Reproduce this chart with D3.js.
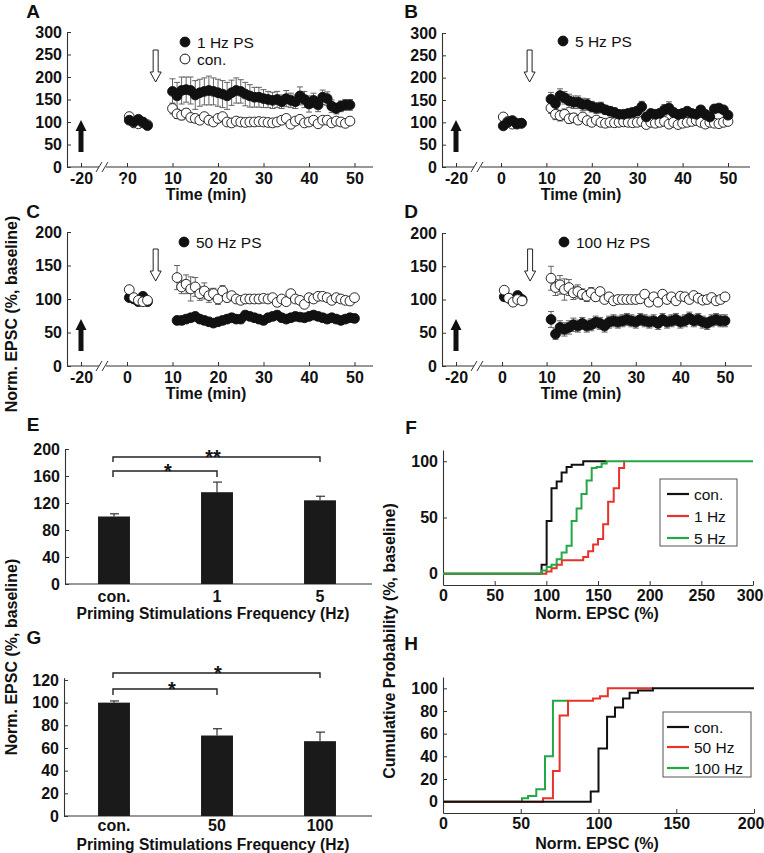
<!DOCTYPE html>
<html><head><meta charset="utf-8">
<script src="https://cdn.jsdelivr.net/npm/d3@7"></script>
<style>body{margin:0;background:#fff}svg text{font-family:"Liberation Sans",Arial,Helvetica,sans-serif}</style>
</head><body><svg id="c" width="764" height="853"></svg>
<script>
// ---------------- DATA ----------------
const timeTicks = [-20,0,10,20,30,40,50];
const timeLabelsA = ["-20","?0","10","20","30","40","50"];
const timeLabelsB = ["-20","0","10","20","30","40","50"];
const tBase = [0.5,1.5,2.5,3.5,4.5];
const tPostA = [10,11,12,13,14,15,16,17,18,19,20,21,22,23,24,25,26,27,28,29,30,31,32,33,34,35,36,37,38,39,40,41,42,43,44,45,46,47,48,49];
const tPost = [11,12,13,14,15,16,17,18,19,20,21,22,23,24,25,26,27,28,29,30,31,32,33,34,35,36,37,38,39,40,41,42,43,44,45,46,47,48,49,50];

// Panel A: 1 Hz PS vs con.
const aBaseFilled = [104,100,106,100,92];
const aBaseOpen = [112,98,96,98,94];
const aFilled = [168,158,170,172,170,160,165,168,170,168,165,162,158,165,170,168,162,158,155,155,152,150,148,150,145,152,148,145,158,150,140,148,138,155,152,135,130,135,138,138];
const aFilledErr = [28,30,30,28,30,32,30,30,32,30,30,30,30,28,28,26,26,25,22,22,20,18,18,18,15,18,16,15,20,18,18,16,15,16,15,14,12,12,12,12];
const aOpen = [130,118,115,120,110,108,104,112,104,100,108,112,100,98,102,100,99,100,100,101,100,99,98,100,104,108,95,102,106,98,100,104,96,104,104,98,102,100,97,102];
const aOpenErr = [12,10,10,10,8,8,6,8,6,5,6,6,5,5,5,5,5,4,4,4,4,4,4,4,5,5,5,5,5,5,5,5,5,5,5,5,5,5,5,5];

// Panel B: 5 Hz PS
const bBaseFilled = [92,100,104,96,98];
const bBaseOpen = [112,102,96,98,98];
const bFilled = [152,142,160,155,148,145,145,140,140,135,132,133,128,125,122,118,118,120,122,125,135,112,120,118,120,128,132,122,118,120,125,120,118,128,118,112,130,132,128,116];
const bFilledErr = [15,12,15,14,15,14,14,14,13,12,12,12,10,10,10,8,8,8,10,10,12,8,8,8,10,12,14,10,8,8,8,8,8,8,8,8,8,8,8,8];
const bOpen = [132,118,115,118,108,110,105,112,104,100,105,100,98,100,99,100,101,100,99,100,102,95,100,98,100,102,96,100,95,98,100,102,104,100,96,100,98,97,100,102];
const bOpenErr = [12,12,12,12,10,10,8,8,6,6,5,5,5,4,4,4,4,4,4,4,5,5,5,5,5,5,5,5,5,5,5,5,5,5,5,5,5,5,5,5];

// Panel C: 50 Hz PS
const cBaseFilled = [102,100,96,104,96];
const cBaseOpen = [114,102,98,96,98];
const cFilled = [68,68,70,72,74,70,68,66,64,66,68,70,72,70,70,76,74,72,70,68,72,74,76,72,70,72,74,73,72,74,76,74,72,70,72,70,68,70,72,71];
const cFilledErr = [6,6,6,6,6,6,6,6,6,6,6,6,6,6,6,6,6,6,6,6,6,6,6,6,6,6,6,6,6,6,6,6,6,6,6,6,6,6,6,6];
const cOpen = [132,118,122,115,118,108,112,105,108,100,112,102,105,100,98,100,100,100,100,101,100,102,95,100,96,108,100,98,92,102,100,104,104,102,98,102,100,98,97,102];
const cOpenErr = [18,10,14,18,14,10,12,10,8,8,8,6,6,5,5,5,5,5,5,5,5,5,6,5,5,6,5,5,5,5,5,5,5,5,5,5,5,5,5,5];

// Panel D: 100 Hz PS
const dBaseFilled = [104,102,98,106,100];
const dBaseOpen = [114,102,96,100,98];
const dFilled = [70,48,58,55,58,62,60,64,60,62,66,64,60,66,68,66,68,70,68,66,70,68,66,68,64,70,66,68,70,66,68,72,68,70,66,64,68,70,68,68];
const dFilledErr = [12,8,10,10,10,10,9,9,9,9,9,9,9,9,9,9,9,9,9,9,9,9,9,9,9,9,9,9,9,9,9,9,9,9,9,9,9,9,9,9];
const dOpen = [132,118,122,115,118,110,112,108,105,110,104,112,100,104,98,100,100,100,100,100,101,108,96,104,96,108,100,104,98,105,104,100,106,102,99,100,103,98,100,104];
const dOpenErr = [18,12,14,16,12,10,10,8,8,8,6,6,5,5,5,5,5,5,5,5,5,5,5,5,5,5,5,5,5,5,5,5,5,5,5,5,5,5,5,5];

// Panel E / G bar charts
const eCats = ["con.","1","5"];
const eVals = [100,136,124];
const eErr = [4,15,6];
const eTicks = [0,40,80,120,160,200];
const gCats = ["con.","50","100"];
const gVals = [100,71,66];
const gErr = [1.5,6,8];
const gTicks = [0,20,40,60,80,100,120];

// Panel F cumulative (steps)
const fConX = [0,95.4,100.3,105,110,114.8,119.6,124.5,135.7,158];
const fConY = [0,8,47,76,82,90,95,97,100,100];
const f1X = [0,100,105,110,115,135.7,140.5,145.3,150,155,159.8,165.2,170.4,175.3,176];
const f1Y = [0,2,5,8,12,15,20,26,31,44,64,76,94,100,100];
const f5X = [0,95.4,100.3,105,110,114.8,119.6,124.5,129.3,134,139,143.9,148.7,153.5,158.4,300];
const f5Y = [0,3,6,8,13,19,25,47,58,71,83,94,95,98,100,100];
const fTicksX = [0,50,100,150,200,250,300];
const fTicksY = [0,50,100];

// Panel H cumulative (steps)
const hConX = [0,95,100,105.5,110.6,115.8,120,125.4,135,200];
const hConY = [0,9,47,75,83,91,96,98,100,100];
const h50X = [0,64.3,70.7,75,80.4,96.5,101,106,135];
const h50Y = [0,3,27,76,89,91,93,100,100];
const h100X = [0,50.8,54.7,60,65.6,70.7,80];
const h100Y = [0,3,5,11,40,89,89];
const hTicksX = [0,50,100,150,200];
const hTicksY = [0,20,40,60,80,100];

// ---------------- DRAW ----------------
const FONT = '"Liberation Sans",Arial,Helvetica,sans-serif';
const FS = 16;
const svg = d3.select("#c");
svg.append("rect").attr("width",764).attr("height",853).attr("fill","#fff");

function styleAxis(g){
  g.select(".domain").attr("stroke","#333").attr("stroke-width",1.1);
  g.selectAll(".tick line").attr("stroke","#333").attr("stroke-width",1);
  g.selectAll(".tick text").attr("font-size",FS).attr("font-weight","bold").attr("fill","#111").attr("font-family",FONT);
}
function txt(x,y,s,opt={}){
  const t = svg.append("text").attr("x",x).attr("y",y).text(s)
    .attr("font-size",opt.size||FS).attr("font-weight",opt.weight||"bold")
    .attr("fill",opt.fill||"#111").attr("text-anchor",opt.anchor||"middle").attr("font-family",FONT);
  if(opt.rotate) t.attr("transform",`rotate(${opt.rotate},${x},${y})`);
  return t;
}

function tsPanel(o){
  const x = d3.scaleLinear().domain([-20,0,50]).range(o.xr);
  const y = d3.scaleLinear().domain([0,o.ymax]).range([o.y0,o.y1]);
  const g = svg.append("g");
  const ya = g.append("g").attr("transform",`translate(${o.ax},0)`)
    .call(d3.axisLeft(y).tickValues(o.yticks).tickFormat(d3.format("d")).tickSize(-4).tickPadding(5).tickSizeOuter(0));
  styleAxis(ya);
  const xa = g.append("g").attr("transform",`translate(0,${o.y0})`)
    .call(d3.axisBottom(x).tickValues(timeTicks).tickFormat((d,i)=>o.xlabels[i]).tickSize(-4).tickPadding(6).tickSizeOuter(0));
  styleAxis(xa);
  xa.select(".domain").remove();
  g.append("line").attr("x1",o.ax).attr("x2",o.xend).attr("y1",o.y0).attr("y2",o.y0).attr("stroke","#333").attr("stroke-width",1.1);
  g.append("rect").attr("x",o.brk-3).attr("y",o.y0-2).attr("width",7).attr("height",4).attr("fill","#fff");
  [o.brk-3,o.brk+3].forEach(bx=>g.append("line").attr("x1",bx-3).attr("x2",bx+3).attr("y1",o.y0+5).attr("y2",o.y0-5).attr("stroke","#333").attr("stroke-width",1));
  txt(o.titleX,o.y0+33,"Time (min)");
  const ux = x(-20), uy0 = o.y0-15, uy1 = o.y0-47;
  g.append("path").attr("d",`M${ux-2.5},${uy0}L${ux-2.5},${uy1+11}L${ux-5.5},${uy1+11}L${ux},${uy1}L${ux+5.5},${uy1+11}L${ux+2.5},${uy1+11}L${ux+2.5},${uy0}Z`).attr("fill","#111");
  const dx = x(6.3), dy0 = o.y0-117, dy1 = o.y0-85;
  g.append("path").attr("d",`M${dx-2.5},${dy0}L${dx-2.5},${dy1-10}L${dx-5.5},${dy1-10}L${dx},${dy1}L${dx+5.5},${dy1-10}L${dx+2.5},${dy1-10}L${dx+2.5},${dy0}Z`).attr("fill","#fff").attr("stroke","#222").attr("stroke-width",1);
  const series = [
    {t:tBase, v:o.baseOpen, e:o.baseOpen.map(()=>4), filled:false},
    {t:o.tp, v:o.open, e:o.openErr, filled:false},
    {t:tBase, v:o.baseFilled, e:o.baseFilled.map(()=>5), filled:true},
    {t:o.tp, v:o.filled, e:o.filledErr, filled:true}
  ];
  const order = o.openOnTop ? [2,3,0,1] : [0,1,2,3];
  series.forEach(s=>{
    const eg = g.append("g").attr("stroke","#555").attr("stroke-width",0.9);
    s.t.forEach((t,i)=>{
      const cx = x(t), hi = y(s.v[i]+s.e[i]), lo = y(s.v[i]-s.e[i]);
      eg.append("line").attr("x1",cx).attr("x2",cx).attr("y1",hi).attr("y2",lo);
      eg.append("line").attr("x1",cx-3).attr("x2",cx+3).attr("y1",hi).attr("y2",hi);
      eg.append("line").attr("x1",cx-3).attr("x2",cx+3).attr("y1",lo).attr("y2",lo);
    });
  });
  order.forEach(k=>{
    const s = series[k];
    g.append("g").selectAll("circle").data(s.t).join("circle")
      .attr("cx",d=>x(d)).attr("cy",(d,i)=>y(s.v[i])).attr("r",4.9)
      .attr("fill",s.filled?"#111":"#fff").attr("stroke","#111").attr("stroke-width",0.9);
  });
  o.legend.forEach(L=>{
    g.append("circle").attr("cx",L.x).attr("cy",L.y).attr("r",4.9).attr("fill",L.filled?"#111":"#fff").attr("stroke","#111").attr("stroke-width",1);
    txt(L.x+12,L.y+5.5,L.text,{weight:"normal",anchor:"start",size:15.5});
  });
}

tsPanel({xr:[81,127,354.5], ax:67, xend:373, brk:102, y0:167, y1:32, ymax:300, yticks:[0,50,100,150,200,250,300],
  xlabels:timeLabelsA, titleX:206, tp:tPostA, baseOpen:aBaseOpen, open:aOpen, openErr:aOpenErr, baseFilled:aBaseFilled, filled:aFilled, filledErr:aFilledErr,
  legend:[{x:185,y:42,filled:true,text:"1 Hz PS"},{x:185,y:59,filled:false,text:"con."}]});
tsPanel({xr:[456,501,728], ax:442, xend:750, brk:477, y0:167, y1:33, ymax:300, yticks:[0,50,100,150,200,250,300],
  xlabels:timeLabelsB, titleX:581, tp:tPost, baseOpen:bBaseOpen, open:bOpen, openErr:bOpenErr, baseFilled:bBaseFilled, filled:bFilled, filledErr:bFilledErr,
  legend:[{x:563,y:41,filled:true,text:"5 Hz PS"}]});
tsPanel({xr:[81,127,354.5], ax:67, xend:373, brk:102, y0:366, y1:232, ymax:200, yticks:[0,50,100,150,200],
  xlabels:timeLabelsB, titleX:206, tp:tPost, baseOpen:cBaseOpen, open:cOpen, openErr:cOpenErr, baseFilled:cBaseFilled, filled:cFilled, filledErr:cFilledErr, openOnTop:true,
  legend:[{x:184,y:242,filled:true,text:"50 Hz PS"}]});
tsPanel({xr:[456,502,725], ax:442, xend:752, brk:477, y0:366, y1:233, ymax:200, yticks:[0,50,100,150,200],
  xlabels:timeLabelsB, titleX:581, tp:tPost, baseOpen:dBaseOpen, open:dOpen, openErr:dOpenErr, baseFilled:dBaseFilled, filled:dFilled, filledErr:dFilledErr, openOnTop:true,
  legend:[{x:564,y:242,filled:true,text:"100 Hz PS"}]});

function barPanel(o){
  const x = d3.scaleBand().domain(o.cats).range([62.5,371.5]).paddingInner(0.69).paddingOuter(0.345);
  const y = d3.scaleLinear().domain([0,o.ymax]).range([o.y0,o.y1]);
  const g = svg.append("g");
  const ya = g.append("g").attr("transform",`translate(${o.ax},0)`)
    .call(d3.axisLeft(y).tickValues(o.ticks).tickSize(-4).tickPadding(5).tickSizeOuter(0));
  styleAxis(ya);
  const xa = g.append("g").attr("transform",`translate(0,${o.y0})`)
    .call(d3.axisBottom(x).tickSize(0).tickPadding(o.pad).tickSizeOuter(0));
  styleAxis(xa);
  xa.select(".domain").remove();
  g.append("line").attr("x1",o.ax).attr("x2",372).attr("y1",o.y0).attr("y2",o.y0).attr("stroke","#333").attr("stroke-width",1.1);
  o.cats.forEach((c,i)=>{
    const cx = x(c)+x.bandwidth()/2;
    g.append("line").attr("x1",cx).attr("x2",cx).attr("y1",y(o.vals[i])).attr("y2",y(o.vals[i]+o.err[i])).attr("stroke","#333").attr("stroke-width",1.2);
    g.append("line").attr("x1",cx-4).attr("x2",cx+5).attr("y1",y(o.vals[i]+o.err[i])).attr("y2",y(o.vals[i]+o.err[i])).attr("stroke","#333").attr("stroke-width",1.2);
  });
  g.selectAll("rect.bar").data(o.vals).join("rect").attr("class","bar")
    .attr("x",(d,i)=>x(o.cats[i])).attr("width",x.bandwidth())
    .attr("y",d=>y(d)).attr("height",d=>o.y0-y(d)).attr("fill","#1a1a1a");
  const cxs = o.cats.map(c=>x(c)+x.bandwidth()/2);
  o.brackets.forEach(b=>{
    const x1 = cxs[0]-1, x2 = cxs[b.to];
    g.append("path").attr("d",`M${x1},${b.y+b.drop}L${x1},${b.y}L${x2},${b.y}L${x2},${b.y+b.drop}`).attr("fill","none").attr("stroke","#222").attr("stroke-width",1.4);
    txt(b.sx,b.y+7,b.s,{size:20});
  });
  txt(213,o.titleY,"Priming Stimulations Frequency (Hz)",{size:15.6});
}
barPanel({cats:eCats, vals:eVals, err:eErr, ticks:eTicks, ymax:200, y0:584, y1:449, ax:65, pad:7, titleY:619,
  brackets:[{y:457,to:2,drop:5,s:"**",sx:213},{y:471,to:1,drop:6,s:"*",sx:168}]});
barPanel({cats:gCats, vals:gVals, err:gErr, ticks:gTicks, ymax:122, y0:816, y1:677.7, ax:64, pad:4, titleY:850,
  brackets:[{y:673,to:2,drop:5,s:"*",sx:218},{y:689,to:1,drop:6,s:"*",sx:172}]});

function cumPanel(o){
  const x = d3.scaleLinear().domain([0,o.xmax]).range([443,o.xend]);
  const y = d3.scaleLinear().domain([-10,110]).range(o.yr);
  const g = svg.append("g");
  const ya = g.append("g").attr("transform",`translate(443,0)`)
    .call(d3.axisLeft(y).tickValues(o.yticks).tickSize(-4).tickPadding(5).tickSizeOuter(0));
  styleAxis(ya);
  const xa = g.append("g").attr("transform",`translate(0,${o.yr[0]})`)
    .call(d3.axisBottom(x).tickValues(o.xticks).tickSize(-4).tickPadding(5).tickSizeOuter(0));
  styleAxis(xa);
  xa.selectAll(".tick text").filter(d=>d===o.xmax).attr("text-anchor","end").attr("dx",10);
  const line = d3.line().x(d=>x(d[0])).y(d=>y(d[1])).curve(d3.curveStepAfter);
  o.series.forEach(s=>{
    g.append("path").attr("d",line(s.xs.map((v,i)=>[v,s.ys[i]]))).attr("fill","none").attr("stroke",s.color).attr("stroke-width",2);
  });
  const L = o.leg;
  g.append("rect").attr("x",L.x0).attr("y",L.y0).attr("width",L.x1-L.x0).attr("height",L.y1-L.y0).attr("fill","#fff").attr("stroke","#555").attr("stroke-width",1);
  o.legItems.forEach((it,i)=>{
    const yy = L.ys[i];
    g.append("line").attr("x1",L.lx).attr("x2",L.lx+22).attr("y1",yy).attr("y2",yy).attr("stroke",it.color).attr("stroke-width",2.2);
    txt(L.lx+27,yy+5.5,it.text,{weight:"normal",anchor:"start",size:15.5});
  });
  txt(o.titleX,o.titleY,"Norm. EPSC (%)");
}
cumPanel({xmax:300, xend:753, yr:[585,450], xticks:fTicksX, yticks:fTicksY, titleX:597, titleY:619,
  series:[{xs:fConX,ys:fConY,color:"#111"},{xs:f1X,ys:f1Y,color:"#e8322b"},{xs:f5X,ys:f5Y,color:"#22a845"}],
  leg:{x0:660,x1:737,y0:479,y1:546,lx:667,ys:[494,516,538]},
  legItems:[{color:"#111",text:"con."},{color:"#e8322b",text:"1 Hz"},{color:"#22a845",text:"5 Hz"}]});
cumPanel({xmax:200, xend:754, yr:[813,677], xticks:hTicksX, yticks:hTicksY, titleX:597, titleY:849,
  series:[{xs:h100X,ys:h100Y,color:"#22a845"},{xs:h50X,ys:h50Y,color:"#e8322b"},{xs:hConX,ys:hConY,color:"#111"}],
  leg:{x0:663,x1:751,y0:712,y1:777,lx:667,ys:[727,747,768]},
  legItems:[{color:"#111",text:"con."},{color:"#e8322b",text:"50 Hz"},{color:"#22a845",text:"100 Hz"}]});

txt(17,314,"Norm. EPSC (%, baseline)",{rotate:-90});
txt(17,657,"Norm. EPSC (%, baseline)",{rotate:-90});
txt(395,641,"Cumulative Probability (%, baseline)",{rotate:-90});

[["A",33,18],["B",411,18],["C",33,218],["D",411,218],["E",33,431],["F",411,434],["G",34,644],["H",411,650]]
  .forEach(p=>txt(p[1],p[2],p[0],{size:19}));
</script></body></html>
